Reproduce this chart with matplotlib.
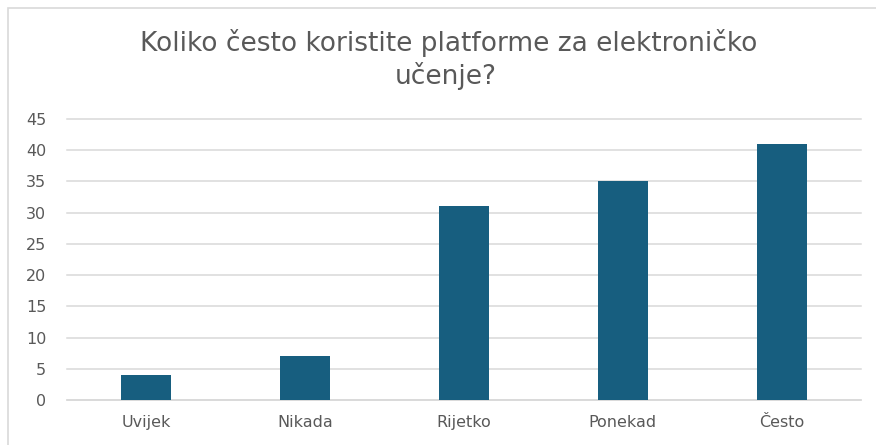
import matplotlib
matplotlib.use("Agg")
import matplotlib.pyplot as plt
from matplotlib.patches import Rectangle

categories = ["Uvijek", "Nikada", "Rijetko", "Ponekad", "Često"]
values = [4, 7, 31, 35, 41]
yticks = [0, 5, 10, 15, 20, 25, 30, 35, 40, 45]
title_lines = ["Koliko često koristite platforme za elektroničko", "učenje?"]

plt.rcParams['font.family'] = ['DejaVu Sans']

W, H = 876, 445
fig = plt.figure(figsize=(W / 100, H / 100), dpi=100)
fig.patch.set_facecolor('white')

# chart frame (cropped at right and bottom)
fig.add_artist(Rectangle((8 / W, -0.1), 1.2, (H - 8) / H + 0.1, transform=fig.transFigure,
                         fill=False, edgecolor='#D9D9D9', linewidth=1.2))

ax = fig.add_axes([67 / W, 45 / H, (861 - 67) / W, (400 - 119) / H])
x = range(len(categories))
ax.bar(x, values, width=0.315, color='#175E7F', zorder=3)
ax.set_xlim(-0.5, len(categories) - 0.5)
ax.set_ylim(0, 45)
ax.set_yticks(yticks)
ax.set_xticks(list(x))
ax.set_xticklabels(categories)
ax.yaxis.grid(True, color='#D9D9D9', linewidth=1.1, zorder=0)
for gl in ax.get_ygridlines():
    gl.set_clip_on(False)
ax.set_axisbelow(True)
for s in ['top', 'right', 'left']:
    ax.spines[s].set_visible(False)
ax.spines['bottom'].set_color('#D9D9D9')
ax.spines['bottom'].set_linewidth(1.1)
ax.tick_params(axis='both', length=0, labelsize=11.5, labelcolor='#595959')
ax.tick_params(axis='y', pad=15)
ax.tick_params(axis='x', pad=11)
for lbl in ax.get_yticklabels():
    lbl.set_horizontalalignment('right')

fig.text(449 / W, 1 - 51 / H, title_lines[0], ha='center', va='baseline',
         fontsize=19, color='#595959')
fig.text(446 / W, 1 - 84 / H, title_lines[1], ha='center', va='baseline',
         fontsize=19, color='#595959')

fig.savefig('out.png', dpi=100)
